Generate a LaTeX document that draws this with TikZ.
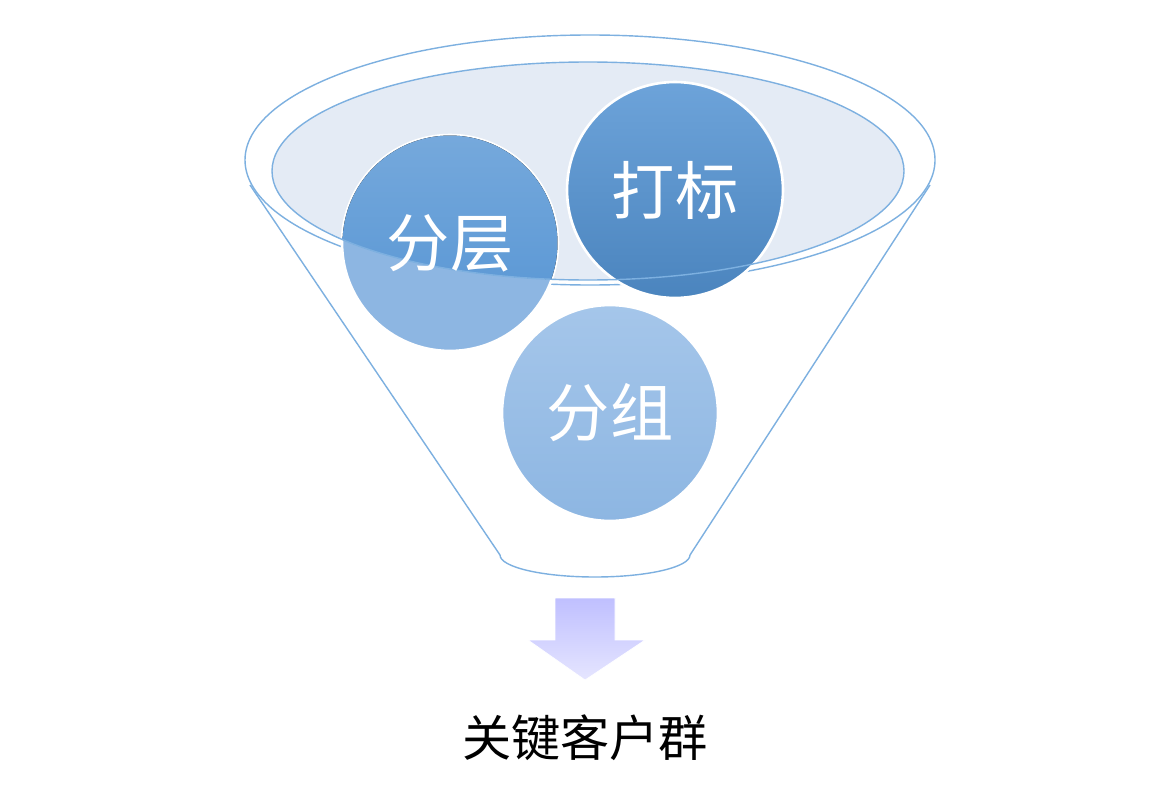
\documentclass[tikz,border=0pt]{standalone}
\usepackage{fontspec}
\newfontfamily\cjk{Noto Sans CJK SC}
\definecolor{rimc}{HTML}{7DB0E0}
\definecolor{ballA}{HTML}{5393D3}
\definecolor{ballB}{HTML}{8DB6E2}
\definecolor{ballC}{HTML}{A5C6EA}
\definecolor{inner}{HTML}{E4EBF5}
\begin{document}
\begin{tikzpicture}[x=0.02cm,y=-0.02cm,
  ball/.style={circle,minimum size=4.32cm,inner sep=0pt,draw=white,line width=1.5pt},
  lbl/.style={text=white,font=\cjk\fontsize{36}{36}\selectfont},
  rim/.style={draw=rimc,line width=0.8pt}]
\useasboundingbox (0,0) rectangle (1162,794);
\fill[white] (250,185) -- (500,555) arc[start angle=180,end angle=0,x radius=95,y radius=22] -- (930,185) -- cycle;
\draw[rim] (250,185) -- (500,555);
\draw[rim] (930,185) -- (690,555);
\draw[rim] (500,555) arc[start angle=180,end angle=0,x radius=95,y radius=22];
\draw[rim,fill=white] (590,160) ellipse[x radius=345,y radius=125];
\fill[inner] (588,171) ellipse[x radius=316,y radius=109];
\node[ball,top color=ballC,bottom color=ballB] (b3) at (610,413) {};
\node[ball,fill=ballB] (b1) at (450,243) {};
\node[ball,top color=ballA!85!white,bottom color=ballA!90!black] (b2) at (675,190) {};
\begin{scope}
\clip (588,171) ellipse[x radius=316,y radius=109];
\fill[top color=ballA!80!white,bottom color=ballA] (450,243) circle[radius=2.15cm];
\end{scope}
\draw[rim] (588,171) ellipse[x radius=316,y radius=109];
\node[lbl] at (b1) {分层};
\node[lbl] at (b2) {打标};
\node[lbl] at (b3) {分组};
\shade[top color=blue!25,bottom color=blue!10,draw=white] (555,598) -- (615,598) -- (615,640) -- (645,640) -- (585,680) -- (528,640) -- (555,640) -- cycle;
\node[font=\cjk\fontsize{28}{28}\selectfont] (lab) at (585,738) {关键客户群};
\end{tikzpicture}
\end{document}
